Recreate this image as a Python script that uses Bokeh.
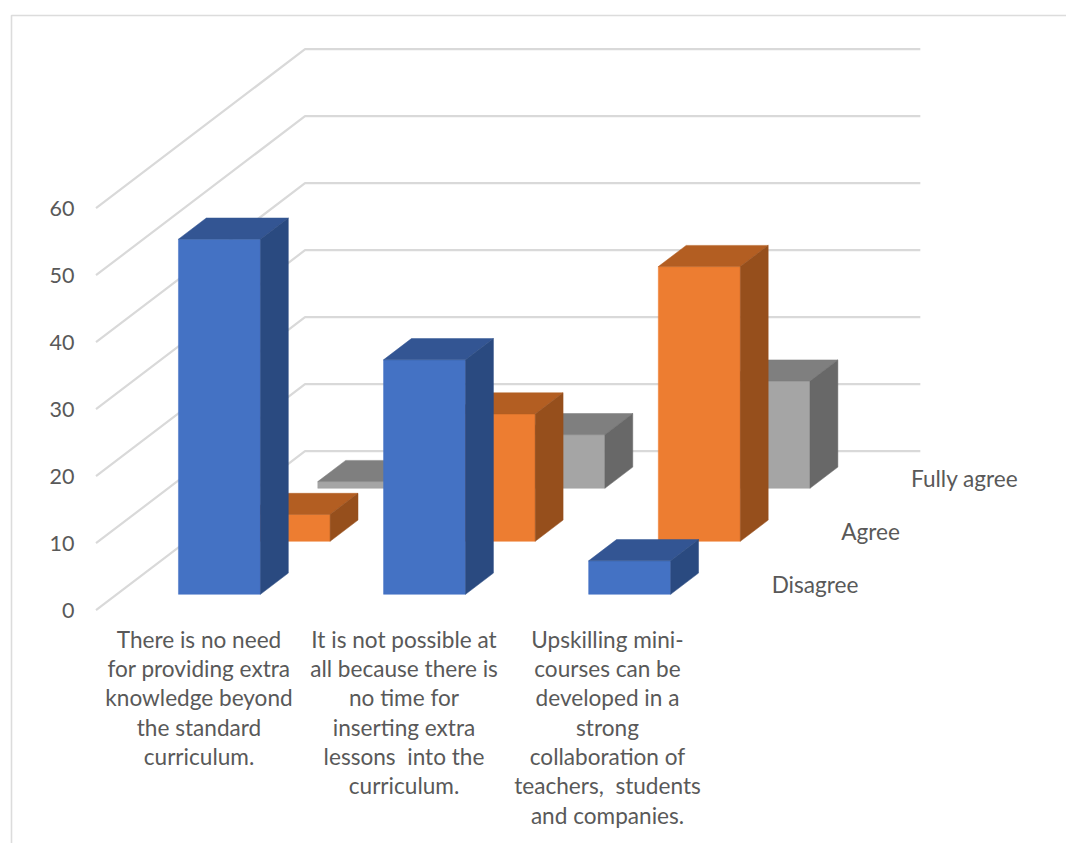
from bokeh.core.properties import value
from bokeh.embed import file_html
from bokeh.models import FixedTicker, Range1d
from bokeh.plotting import figure
from bokeh.resources import INLINE

# Survey data
categories = [
    "There is no need\nfor providing extra\nknowledge beyond\nthe standard\ncurriculum.",
    "It is not possible at\nall because there is\nno time for\ninserting extra\nlessons \u00a0into the\ncurriculum.",
    "Upskilling mini-\ncourses can be\ndeveloped in a\nstrong\ncollaboration of\nteachers, \u00a0students\nand companies.",
]
series_names = ["Disagree", "Agree", "Fully agree"]
disagree = [53, 35, 5]
agree = [4, 19, 41]
fully_agree = [1, 8, 16]
value_ticks = [0, 10, 20, 30, 40, 50, 60]

series_values = [disagree, agree, fully_agree]
face_colors = [
    ("#4472c4", "#335593", "#2a4a80"),
    ("#ed7d31", "#b35e22", "#964f1c"),
    ("#a5a5a5", "#7f7f7f", "#686868"),
]

WIDTH, HEIGHT = 1066, 843

# Page geometry of the oblique projection: one category is CAT_PX wide, one
# value unit is VAL_PX tall, and one series slot recedes by DEPTH_X/DEPTH_Y.
ORIGIN_X, ORIGIN_Y = 95.5, 609.7
CAT_PX, VAL_PX = 205.1, 6.7
DEPTH_X, DEPTH_Y = 69.67, 53.0
BAR_WIDTH = 82 / CAT_PX
BAR_DEPTH = 0.4

TEXT = "#595959"
GRID = "#d9d9d9"
FONT = "Lato"
LABEL_SIZE = "22.6px"
TICK_SIZE = "21.5px"


def project(cat, depth, val):
    """Map (category, depth, value) on to the figure's data axes."""
    return cat + depth * DEPTH_X / CAT_PX, val + depth * DEPTH_Y / VAL_PX


def page_x(px):
    return (px - ORIGIN_X) / CAT_PX


def page_y(py):
    return (ORIGIN_Y - py) / VAL_PX


p = figure(
    width=WIDTH,
    height=HEIGHT,
    output_backend="svg",
    toolbar_location=None,
    min_border=0,
    x_range=Range1d(page_x(0), page_x(WIDTH)),
    y_range=Range1d(page_y(HEIGHT), page_y(0)),
    background_fill_color="white",
    border_fill_color="white",
    outline_line_color=None,
)
p.grid.visible = False
p.xaxis.visible = False

# Value axis sits just left of the side wall
p.yaxis.fixed_location = page_x(80)
p.yaxis.ticker = FixedTicker(ticks=value_ticks)
p.yaxis.axis_line_color = None
p.yaxis.major_tick_line_color = None
p.yaxis.minor_tick_line_color = None
p.yaxis.major_tick_out = 0
p.yaxis.major_tick_in = 0
p.yaxis.major_label_standoff = 6
p.yaxis.major_label_text_color = TEXT
p.yaxis.major_label_text_font = FONT
p.yaxis.major_label_text_font_size = TICK_SIZE

# Chart frame, open towards the right and bottom edges of the page
p.line(
    [page_x(11), page_x(11), page_x(WIDTH + 5)],
    [page_y(HEIGHT + 5), page_y(15), page_y(15)],
    line_color="#dcdcdc",
    line_width=1.6,
)

# Gridlines run along the side wall and then across the back wall
n_cats, n_series = len(categories), len(series_names)
grid_xs, grid_ys = [], []
for tick in value_ticks:
    corners = [project(0, 0, tick), project(0, n_series, tick), project(n_cats, n_series, tick)]
    grid_xs.append([c[0] for c in corners])
    grid_ys.append([c[1] for c in corners])
p.multi_line(grid_xs, grid_ys, line_color=GRID, line_width=2.2)

# Bars are painted back to front so nearer rows cover the ones behind
gap = (1 - BAR_DEPTH) / 2
for s in reversed(range(n_series)):
    front_col, top_col, side_col = face_colors[s]
    for c, val in enumerate(series_values[s]):
        x0 = c + (1 - BAR_WIDTH) / 2
        x1 = x0 + BAR_WIDTH
        d0 = s + gap
        d1 = d0 + BAR_DEPTH
        faces = [
            ([(x0, d0, 0), (x1, d0, 0), (x1, d0, val), (x0, d0, val)], front_col),
            ([(x0, d0, val), (x1, d0, val), (x1, d1, val), (x0, d1, val)], top_col),
            ([(x1, d0, 0), (x1, d1, 0), (x1, d1, val), (x1, d0, val)], side_col),
        ]
        for corners, color in faces:
            pts = [project(*corner) for corner in corners]
            p.patch([q[0] for q in pts], [q[1] for q in pts],
                    fill_color=color, line_color=color, line_width=0.5)

# Category labels under the bars
p.text(
    x=[page_x(198.5), page_x(403.5), page_x(607)],
    y=[page_y(625)] * n_cats,
    text=categories,
    text_font=value(FONT),
    text_font_size=value(LABEL_SIZE),
    text_color=TEXT,
    text_align="center",
    text_baseline="top",
    text_line_height=1.087,
)

# Series names line up with their rows, past the right end of the floor
for s, name in enumerate(series_names):
    x, y = project(n_cats, s + 0.5, 0)
    p.text(
        x=[x],
        y=[y],
        text=[name],
        x_offset=[25.5],
        y_offset=[1],
        text_font=value(FONT),
        text_font_size=value(LABEL_SIZE),
        text_color=TEXT,
        text_align="left",
        text_baseline="middle",
    )

open("out.html", "w").write(file_html(p, INLINE))
